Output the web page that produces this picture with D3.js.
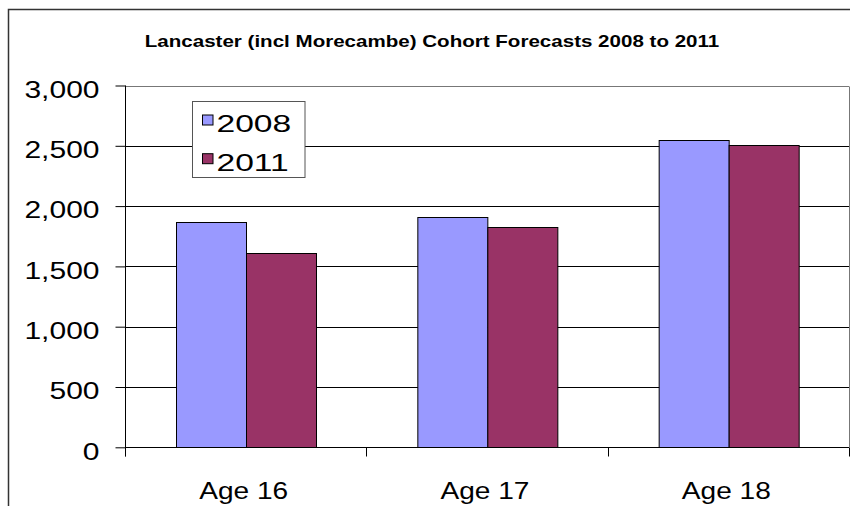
<!DOCTYPE html>
<html><head><meta charset="utf-8">
<script src="https://cdn.jsdelivr.net/npm/d3@7"></script>
<style>html,body{margin:0;padding:0;background:#fff;overflow:hidden}svg{display:block}</style>
</head><body>
<script>
const categories = ["Age 16", "Age 17", "Age 18"];
const seriesNames = ["2008", "2011"];
const values2008 = [1866, 1912, 2548];
const values2011 = [1609, 1824, 2504];
const yTicks = [0, 500, 1000, 1500, 2000, 2500, 3000];
const chartTitle = "Lancaster (incl Morecambe) Cohort Forecasts 2008 to 2011";
const colors = ["#9999FF", "#993366"];

(function () {
const W = 850, H = 506;
const svg = d3.select("body").append("svg").attr("width", W).attr("height", H);
const FONT = "'Liberation Sans', Arial, sans-serif";

// outer chart border
svg.append("rect").attr("x", 8.5).attr("y", 9.5).attr("width", 900).attr("height", 600)
  .attr("fill", "#fff").attr("stroke", "#333").attr("stroke-width", 1.5);

const pL = 125, pR = 849, pT = 85.5, pB = 447.3;
const x = d3.scaleBand().domain(categories).range([pL, pR]).padding(0);
const xs = d3.scaleBand().domain(seriesNames).range([0, x.bandwidth()]).paddingInner(0).paddingOuter(0.736);
const y = d3.scaleLinear().domain([0, 3000]).range([pB, pT]);

// gridlines
svg.append("g").selectAll("line").data(yTicks.filter(d => d > 0)).join("line")
  .attr("x1", pL).attr("x2", pR)
  .attr("y1", d => Math.round(y(d)) + 0.5).attr("y2", d => Math.round(y(d)) + 0.5)
  .attr("stroke", d => d === 3000 ? "#777" : "#000").attr("stroke-width", 1);
// plot right border
svg.append("line").attr("x1", pR + 0.5).attr("x2", pR + 0.5).attr("y1", Math.round(pT) + 0.5).attr("y2", pB)
  .attr("stroke", "#777");

// bars
const data = categories.map((c, i) => ({c, vals: [values2008[i], values2011[i]]}));
const groups = svg.append("g").selectAll("g").data(data).join("g")
  .attr("transform", d => `translate(${x(d.c)},0)`);
groups.selectAll("rect").data(d => d.vals.map((v, j) => ({s: seriesNames[j], v, j}))).join("rect")
  .attr("x", d => Math.round(xs(d.s)) + 0.5)
  .attr("y", d => Math.round(y(d.v)) + 0.5)
  .attr("width", d => Math.round(xs.bandwidth()))
  .attr("height", d => Math.round(pB) - Math.round(y(d.v)))
  .attr("fill", d => colors[d.j]).attr("stroke", "#000").attr("stroke-width", 1);

// y axis
const yAxis = d3.axisLeft(y).tickValues(yTicks).tickSize(10).tickFormat(d3.format(","));
const gy = svg.append("g").attr("transform", `translate(${pL + 0.5},0)`).call(yAxis);
gy.select(".domain").attr("d", `M0,${pT}V${pB + 9}`).attr("stroke", "#000");
gy.selectAll(".tick line").attr("stroke", "#000");
gy.selectAll(".tick text").attr("x", null).attr("dy", null).attr("text-anchor", "end")
  .attr("font-family", FONT).attr("font-size", 24).attr("fill", "#000")
  .attr("transform", "translate(-26,11.8) scale(1.25,1)");

// x axis
const xAxis = d3.axisBottom(x).tickSize(0).tickSizeOuter(0);
const gx = svg.append("g").attr("transform", `translate(0,${Math.round(pB) + 0.5})`).call(xAxis);
gx.select(".domain").attr("stroke", "#000").attr("d", `M${pL},0H${pR}`);
gx.selectAll(".tick text").attr("y", null).attr("dy", null)
  .attr("font-family", FONT).attr("font-size", 24).attr("fill", "#000")
  .attr("transform", "translate(-2,51.8) scale(1.17,1)");
// category boundary ticks
const bounds = categories.map(c => x(c)).concat([pR]);
gx.append("g").selectAll("line").data(bounds).join("line")
  .attr("x1", d => Math.round(d) + 0.5).attr("x2", d => Math.round(d) + 0.5)
  .attr("y1", 0).attr("y2", 9).attr("stroke", "#000");

// title
svg.append("text").attr("font-family", FONT).attr("font-weight", "bold").attr("font-size", 15.7)
  .attr("text-anchor", "middle").attr("transform", "translate(432,47.3) scale(1.31,1)")
  .text(chartTitle);

// legend
const lg = svg.append("g").attr("transform", "translate(192.5,101.5)");
lg.append("rect").attr("width", 112.5).attr("height", 76).attr("fill", "#fff").attr("stroke", "#555");
const li = lg.selectAll("g").data(seriesNames).join("g")
  .attr("transform", (d, i) => `translate(0,${i * 38.7})`);
li.append("rect").attr("x", 10).attr("y", 13.5).attr("width", 10.5).attr("height", 10)
  .attr("fill", (d, i) => colors[i]).attr("stroke", "#000");
li.append("text").attr("font-family", FONT).attr("font-size", 24).attr("fill", "#000")
  .attr("transform", "translate(24,30.8) scale(1.4,1)").text(d => d);
})();
</script>
</body></html>
